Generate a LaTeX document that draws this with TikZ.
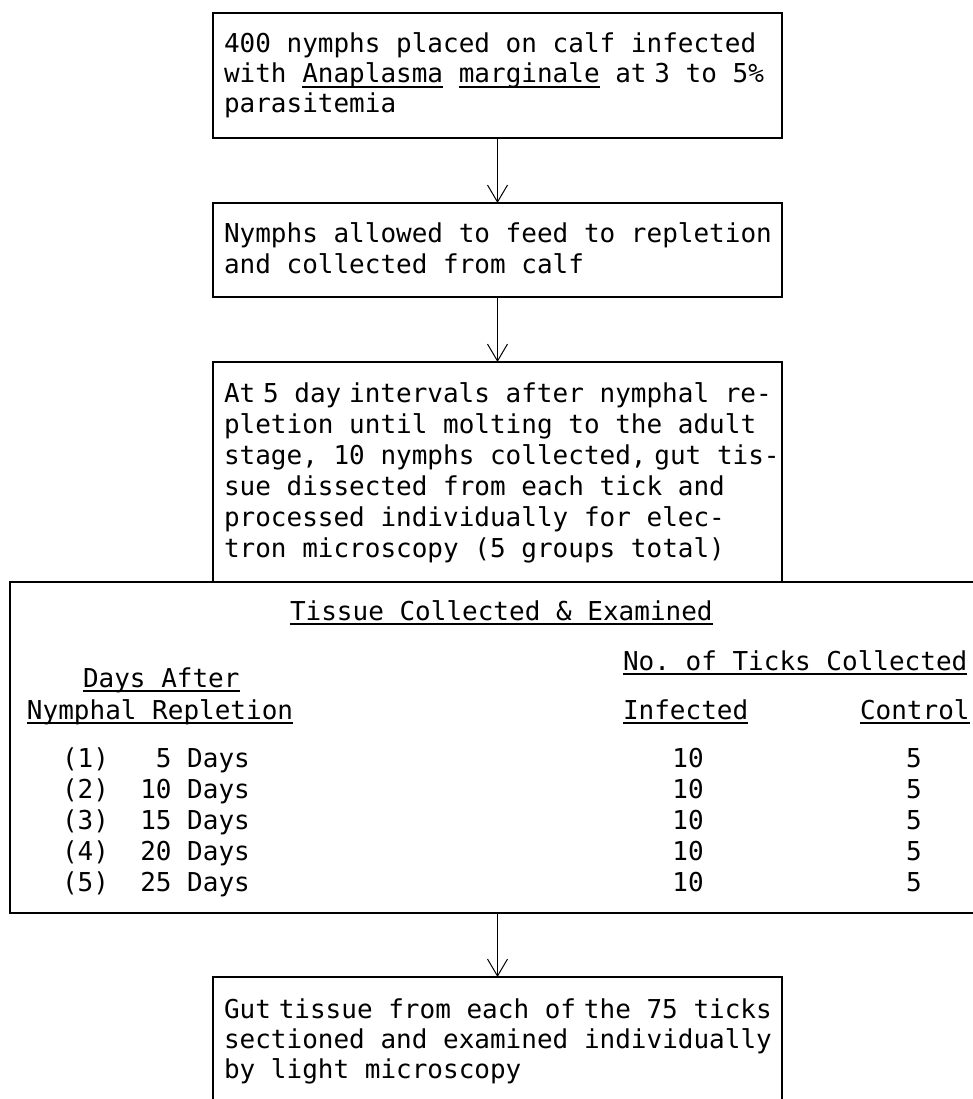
\documentclass[tikz,border=0pt]{standalone}
\usepackage{fontspec}
\newfontfamily\tw{DejaVu Sans Mono}
\usetikzlibrary{arrows.meta}
\newsavebox\ulbox
\newcommand{\ulw}[1]{\sbox\ulbox{#1}\rlap{\rule[-5pt]{\wd\ulbox}{1.6pt}}\usebox\ulbox}
\newcommand{\hsp}{\hspace{0.3em}}
\begin{document}
\begin{tikzpicture}[x=1pt,y=-1pt,
  box/.style={draw, line width=2pt, rectangle, inner sep=0pt, outer sep=0pt, anchor=north west},
  txt/.style={anchor=base west, inner sep=0pt, outer sep=0pt, font=\tw\fontsize{26}{30}\selectfont\frenchspacing},
  txtc/.style={txt, anchor=base},
  arr/.style={line width=1pt, -{Straight Barb[length=17pt,width=20pt,line width=1pt]}}]
\useasboundingbox (0,0) rectangle (973,1099);
\fill[white] (0,0) rectangle (973,1099);
\clip (0,0) rectangle (973,1099);

% boxes
\node[box, minimum width=569pt, minimum height=125pt] (b1) at (213,13) {};
\node[box, minimum width=569pt, minimum height=94pt] (b2) at (213,203) {};
\node[box, minimum width=569pt, minimum height=220pt] (b3) at (213,362) {};
\node[box, minimum width=1000pt, minimum height=331pt] (b4) at (10,582) {};
\node[box, minimum width=569pt, minimum height=200pt] (b5) at (213,977) {};

% box 1
\node[txt] (t1a) at (224,53) {400 nymphs placed on calf infected};
\node[txt] (t1b) at (224,83) {with \ulw{Anaplasma} \ulw{marginale} at\hsp 3 to 5\%};
\node[txt] (t1c) at (224,113) {parasitemia};

% box 2
\node[txt] (t2a) at (224,243) {Nymphs allowed to feed to repletion};
\node[txt] (t2b) at (224,273) {and collected from calf};

% box 3
\node[txt] (t3a) at (224,402) {At\hsp 5 day\hsp intervals after nymphal re-};
\node[txt] (t3b) at (224,433) {pletion until molting to the adult};
\node[txt] (t3c) at (224,464) {stage, 10 nymphs collected,\hsp gut tis-};
\node[txt] (t3d) at (224,495) {sue dissected from each tick and};
\node[txt] (t3e) at (224,526) {processed individually for elec-};
\node[txt] (t3f) at (224,557) {tron microscopy (5 groups total)};

% table
\node[txt] (th) at (290,620) {\ulw{Tissue Collected \& Examined}};
\node[txt] (tn) at (623,670) {\ulw{No. of Ticks Collected}};
\node[txt] (td1) at (83,687) {\ulw{Days After}};
\node[txt] (td2) at (27,719) {\ulw{Nymphal Repletion}};
\node[txt] (ti) at (623,719) {\ulw{Infected}};
\node[txt] (tc) at (860,719) {\ulw{Control}};

\node[txt] (r1) at (62,767) {(1)~~~5 Days};
\node[txt] (r2) at (62,798) {(2)~~10 Days};
\node[txt] (r3) at (62,829) {(3)~~15 Days};
\node[txt] (r4) at (62,860) {(4)~~20 Days};
\node[txt] (r5) at (62,891) {(5)~~25 Days};

\node[txtc] (i1) at (688,767) {10};
\node[txtc] (i2) at (688,798) {10};
\node[txtc] (i3) at (688,829) {10};
\node[txtc] (i4) at (688,860) {10};
\node[txtc] (i5) at (688,891) {10};

\node[txtc] (c1) at (914,767) {5};
\node[txtc] (c2) at (914,798) {5};
\node[txtc] (c3) at (914,829) {5};
\node[txtc] (c4) at (914,860) {5};
\node[txtc] (c5) at (914,891) {5};

% box 5
\node[txt] (t5a) at (224,1018) {Gut\hsp tissue from each of\hsp the 75 ticks};
\node[txt] (t5b) at (224,1048) {sectioned and examined individually};
\node[txt] (t5c) at (224,1078) {by light microscopy};

% arrows
\draw[arr] (b1.south) -- (b2.north);
\draw[arr] (b2.south) -- (b3.north);
\draw[arr] (b5.north |- b4.south) -- (b5.north);
\end{tikzpicture}
\end{document}
